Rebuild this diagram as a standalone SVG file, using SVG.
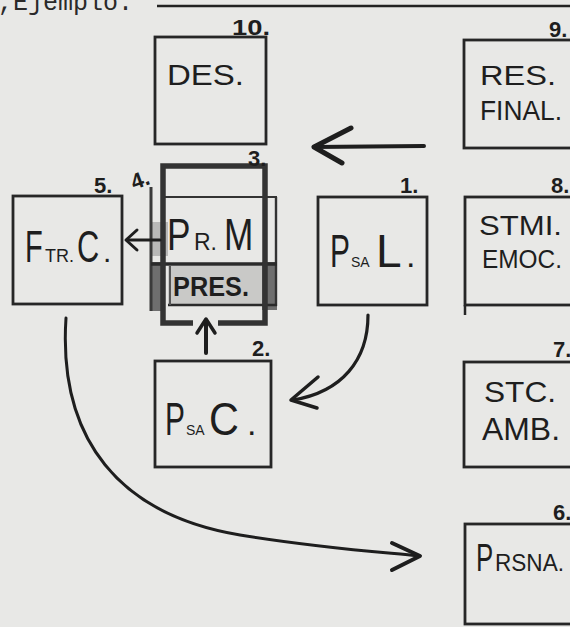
<svg xmlns="http://www.w3.org/2000/svg" width="570" height="627" viewBox="0 0 570 627">
<defs>
<style>
.bg{fill:#e8e8e6}
.box{fill:none;stroke:#262626;stroke-width:2.8;stroke-linecap:square}
.lbl{font-family:"Liberation Sans","DejaVu Sans",sans-serif;fill:#1e1e1e}
.num{font-family:"Liberation Sans","DejaVu Sans",sans-serif;fill:#1e1e1e;font-size:22px;font-weight:bold}
.con{fill:none;stroke:#1e1e1e;stroke-linecap:round;stroke-linejoin:round}
</style>
</defs>
<rect class="bg" x="0" y="0" width="570" height="627"/>

<g id="header">
<text x="-2" y="10" style="font-family:'Liberation Mono','DejaVu Sans Mono',monospace;font-size:25px;fill:#2a2a2a">,Ejemplo:</text>
<line x1="157" y1="6" x2="570" y2="6" stroke="#222" stroke-width="2.5"/>
</g>

<g id="node-10-des">
<rect class="box" x="155" y="37" width="111" height="107"/>
<text class="lbl" x="167" y="85" font-size="30" textLength="77" lengthAdjust="spacingAndGlyphs">DES.</text>
<text class="num" x="232" y="35" font-size="24" textLength="38" lengthAdjust="spacingAndGlyphs">10.</text>
</g>

<g id="node-9-res-final">
<rect class="box" x="464" y="40" width="112" height="108"/>
<text class="lbl" x="480" y="85" font-size="28" textLength="76" lengthAdjust="spacingAndGlyphs">RES.</text>
<text class="lbl" x="480" y="120" font-size="27" textLength="82" lengthAdjust="spacingAndGlyphs">FINAL.</text>
<text class="num" x="549" y="37">9.</text>
</g>

<g id="node-3-4-prm-pres">
<rect x="150" y="262" width="13" height="49" fill="#6e6e6e"/>
<rect x="262" y="262" width="15" height="48" fill="#6e6e6e"/>
<rect x="152" y="222" width="16" height="34" fill="#9a9a9a" opacity="0.6"/>
<rect x="168" y="266" width="94" height="39" fill="#c9c9c7"/>
<line x1="151" y1="187" x2="151" y2="311" stroke="#3a3a3a" stroke-width="3"/>
<line x1="163" y1="197" x2="277" y2="197" stroke="#333" stroke-width="2.2"/>
<line x1="276" y1="197" x2="276" y2="306" stroke="#333" stroke-width="2.4"/>
<line x1="151" y1="264" x2="277" y2="264" stroke="#2a2a2a" stroke-width="3.5"/>
<line x1="168" y1="305" x2="277" y2="305" stroke="#2a2a2a" stroke-width="2.5"/>
<line x1="170" y1="266" x2="170" y2="305" stroke="#555" stroke-width="2"/>
<path d="M193,323 L163,323 L163,166 L265,166 L265,323 L218,323" fill="none" stroke="#333" stroke-width="5.5" stroke-linejoin="miter"/>
<text class="lbl" font-size="44" transform="translate(167,250) scale(0.8,1)">P</text>
<text class="lbl" x="194" y="250" font-size="23">R.</text>
<text class="lbl" font-size="44" transform="translate(224,250) scale(0.8,1)">M</text>
<text class="lbl" x="173" y="296" font-size="27" font-weight="bold" fill="#333" textLength="76" lengthAdjust="spacingAndGlyphs">PRES.</text>
<text class="num" x="248" y="166" font-size="17">3.</text>
<text class="num" x="0" y="0" font-size="20" transform="translate(134,190) rotate(-20)">4.</text>
</g>

<g id="node-5-ftrc">
<rect class="box" x="13" y="196" width="109" height="108"/>
<text class="lbl" font-size="44" transform="translate(25,262) scale(0.66,1)">F</text>
<text class="lbl" x="45" y="262" font-size="18">TR.</text>
<text class="lbl" font-size="44" transform="translate(77,262) scale(0.7,1)">C</text>
<text class="lbl" x="103" y="262" font-size="30">.</text>
<text class="num" x="94" y="193">5.</text>
</g>

<g id="node-1-psal">
<rect class="box" x="318" y="197" width="109" height="108"/>
<text class="lbl" font-size="46" transform="translate(330,267) scale(0.65,1)">P</text>
<text class="lbl" x="351" y="267" font-size="14">SA</text>
<text class="lbl" x="376" y="267" font-size="46">L</text>
<text class="lbl" x="406" y="267" font-size="34">.</text>
<text class="num" x="400" y="193" font-size="24">1.</text>
</g>

<g id="node-8-stmi-emoc">
<rect class="box" x="465" y="197" width="111" height="108"/>
<line x1="465" y1="305" x2="465" y2="315" stroke="#262626" stroke-width="2.5"/>
<text class="lbl" x="479" y="235" font-size="28" textLength="83" lengthAdjust="spacingAndGlyphs">STMI.</text>
<text class="lbl" x="482" y="268" font-size="26" textLength="80" lengthAdjust="spacingAndGlyphs">EMOC.</text>
<text class="num" x="551" y="193">8.</text>
</g>

<g id="node-2-psac">
<rect class="box" x="155" y="361" width="116" height="106"/>
<text class="lbl" font-size="46" transform="translate(165,435) scale(0.65,1)">P</text>
<text class="lbl" x="186" y="435" font-size="14">SA</text>
<text class="lbl" font-size="46" transform="translate(209,435) scale(0.9,1)">C</text>
<text class="lbl" x="247" y="435" font-size="34">.</text>
<text class="num" x="252" y="356">2.</text>
</g>

<g id="node-7-stc-amb">
<rect class="box" x="464" y="362" width="112" height="105"/>
<text class="lbl" x="484" y="402" font-size="30" textLength="72" lengthAdjust="spacingAndGlyphs">STC.</text>
<text class="lbl" x="482" y="440" font-size="32" textLength="78" lengthAdjust="spacingAndGlyphs">AMB.</text>
<text class="num" x="553" y="357">7.</text>
</g>

<g id="node-6-prsna">
<rect class="box" x="465" y="524" width="111" height="100"/>
<text class="lbl" font-size="38" transform="translate(476,571) scale(0.68,1)">P</text>
<text class="lbl" x="495" y="571" font-size="24" textLength="69" lengthAdjust="spacingAndGlyphs">RSNA.</text>
<text class="num" x="553" y="520" font-size="18">6.</text>
</g>

<g id="connectors">
<path class="con" stroke-width="4" d="M424,146 L314,147"/>
<polyline class="con" stroke-width="5" points="351,128 314,147 342,163"/>
<path class="con" stroke-width="3" d="M160,240 L127,240"/>
<polyline class="con" stroke-width="3" points="137,230 126,240 137,250"/>
<path class="con" stroke-width="3.2" d="M368,315 C368,360 342,392 293,400"/>
<polyline class="con" stroke-width="3.5" points="318,377 291,400 317,408"/>
<path class="con" stroke-width="4" d="M206,353 L206,321"/>
<polyline class="con" stroke-width="3.5" points="197,333 206,319 215,333"/>
<path class="con" stroke-width="3" d="M66,318 C58,440 120,515 240,535 C320,548 380,552 419,556"/>
<polyline class="con" stroke-width="4" points="392,543 420,556 392,570"/>
</g>
</svg>
